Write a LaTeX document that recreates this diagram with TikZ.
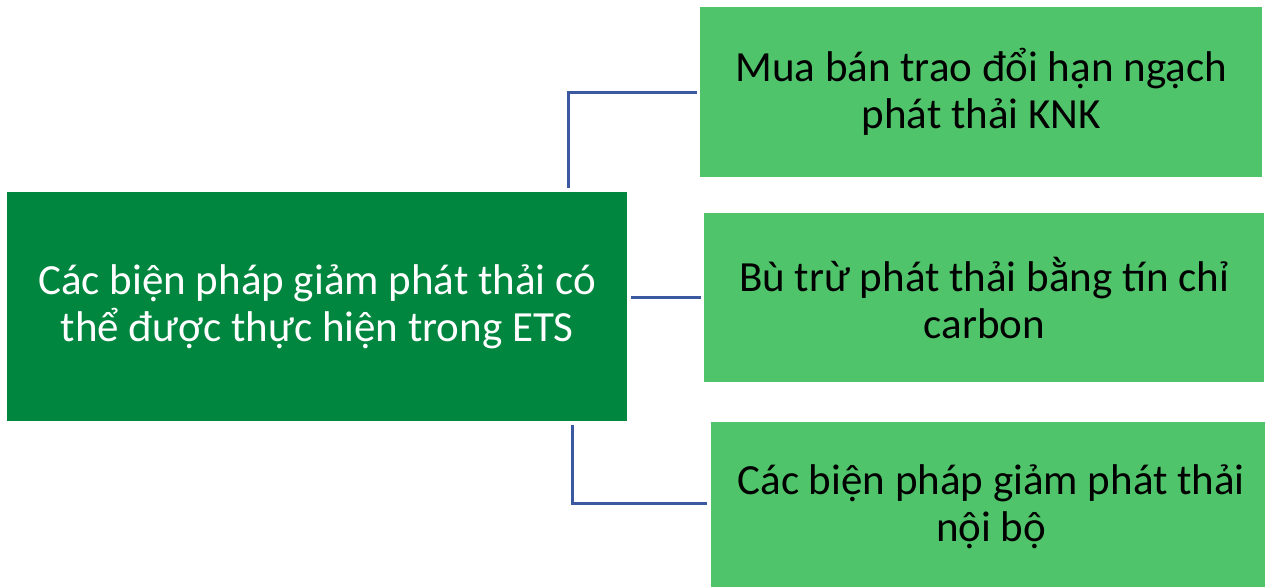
\documentclass[tikz,border=0pt]{standalone}
\usepackage{fontspec}
\setmainfont{Carlito}
\definecolor{darkg}{RGB}{0,134,62}
\definecolor{lightg}{RGB}{80,196,106}
\definecolor{connblue}{RGB}{59,89,160}
\tikzset{
  mainbox/.style={fill=darkg, text=white, draw=none, inner sep=0pt, anchor=north west, align=center,
    font=\fontsize{43}{47}\selectfont},
  subbox/.style={fill=lightg, text=black, draw=none, inner sep=0pt, anchor=north west, align=center,
    font=\fontsize{43}{47}\selectfont},
  conn/.style={draw=connblue, line width=2.6pt}
}
\begin{document}
\begin{tikzpicture}[x=1pt,y=-1pt]
\useasboundingbox (0,0) rectangle (1265,586);
\node[mainbox, minimum width=620pt, minimum height=229pt] (L) at (7,192)
  {Các biện pháp giảm phát thải có\\thể được thực hiện trong ETS};
\node[subbox, minimum width=562pt, minimum height=170pt] (B1) at (700,7)
  {Mua bán trao đổi hạn ngạch\\phát thải KNK};
\node[subbox, minimum width=560pt, minimum height=169pt] (B2) at (704,213)
  {Bù trừ phát thải bằng tín chỉ\\carbon};
\node[subbox, minimum width=560pt, minimum height=170pt] (B3) at (711,422)
  {Các biện pháp giảm phát thải\\nội bộ};
\draw[conn] ([xshift=251pt,yshift=4pt]L.north) |- ([xshift=-3pt]B1.west);
\draw[conn] ([xshift=4pt]L.east |- B2.west) -- ([xshift=-3pt]B2.west);
\draw[conn] ([xshift=255pt,yshift=-4pt]L.south) |- ([xshift=-4pt,yshift=4pt]B3.west);
\end{tikzpicture}
\end{document}
